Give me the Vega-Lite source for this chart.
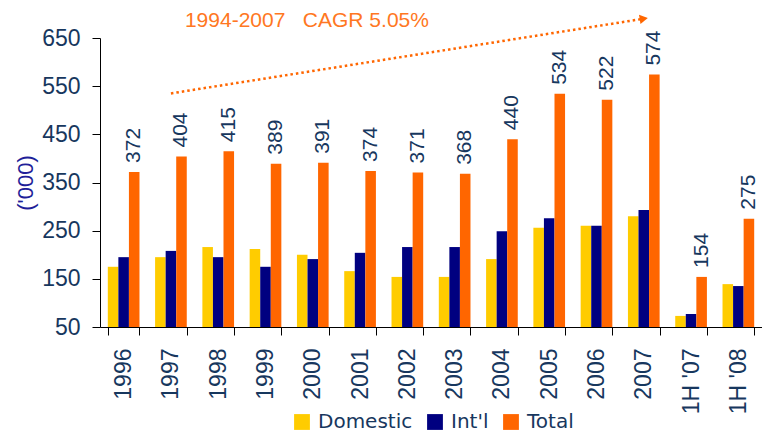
{
  "$schema": "https://vega.github.io/schema/vega-lite/v6.json",
  "width": 662,
  "height": 289,
  "autosize": {"type": "none"},
  "padding": {"left": 100, "top": 38, "right": 0, "bottom": 106},
  "background": "white",
  "config": {"view": {"stroke": null}, "font": "Liberation Sans", "text": {"font": "Liberation Sans"}, "axis": {"labelFont": "Liberation Sans", "titleFont": "Liberation Sans"}},
  "datasets": {
    "main": [
      {"year": "1996", "series": "Domestic", "value": 175}, {"year": "1996", "series": "Int'l", "value": 195}, {"year": "1996", "series": "Total", "value": 372},
      {"year": "1997", "series": "Domestic", "value": 195}, {"year": "1997", "series": "Int'l", "value": 208}, {"year": "1997", "series": "Total", "value": 404},
      {"year": "1998", "series": "Domestic", "value": 216}, {"year": "1998", "series": "Int'l", "value": 195}, {"year": "1998", "series": "Total", "value": 415},
      {"year": "1999", "series": "Domestic", "value": 212}, {"year": "1999", "series": "Int'l", "value": 175}, {"year": "1999", "series": "Total", "value": 389},
      {"year": "2000", "series": "Domestic", "value": 200}, {"year": "2000", "series": "Int'l", "value": 191}, {"year": "2000", "series": "Total", "value": 391},
      {"year": "2001", "series": "Domestic", "value": 166}, {"year": "2001", "series": "Int'l", "value": 204}, {"year": "2001", "series": "Total", "value": 374},
      {"year": "2002", "series": "Domestic", "value": 154}, {"year": "2002", "series": "Int'l", "value": 216}, {"year": "2002", "series": "Total", "value": 371},
      {"year": "2003", "series": "Domestic", "value": 154}, {"year": "2003", "series": "Int'l", "value": 216}, {"year": "2003", "series": "Total", "value": 368},
      {"year": "2004", "series": "Domestic", "value": 191}, {"year": "2004", "series": "Int'l", "value": 249}, {"year": "2004", "series": "Total", "value": 440},
      {"year": "2005", "series": "Domestic", "value": 256}, {"year": "2005", "series": "Int'l", "value": 276}, {"year": "2005", "series": "Total", "value": 534},
      {"year": "2006", "series": "Domestic", "value": 260}, {"year": "2006", "series": "Int'l", "value": 260}, {"year": "2006", "series": "Total", "value": 522},
      {"year": "2007", "series": "Domestic", "value": 280}, {"year": "2007", "series": "Int'l", "value": 293}, {"year": "2007", "series": "Total", "value": 574},
      {"year": "1H '07", "series": "Domestic", "value": 73}, {"year": "1H '07", "series": "Int'l", "value": 77}, {"year": "1H '07", "series": "Total", "value": 154},
      {"year": "1H '08", "series": "Domestic", "value": 139}, {"year": "1H '08", "series": "Int'l", "value": 135}, {"year": "1H '08", "series": "Total", "value": 275}
    ],
    "trend": [
      {"year": "1997", "v": 535},
      {"year": "2007", "v": 690}
    ]
  },
  "layer": [
    {
      "data": {"name": "main"},
      "mark": {"type": "bar"},
      "encoding": {
        "x": {
          "field": "year", "type": "nominal",
          "sort": ["1996","1997","1998","1999","2000","2001","2002","2003","2004","2005","2006","2007","1H '07","1H '08"],
          "scale": {"paddingInner": 0.33, "paddingOuter": 0.165},
          "axis": {
            "title": null, "labelAngle": -90, "labelAlign": "right", "labelBaseline": "middle",
            "labelFont": "Liberation Sans", "labelFontSize": 23, "labelColor": "#17375E", "labelPadding": 13,
            "tickBand": "extent", "tickColor": "black", "tickSize": 8, "domainColor": "black", "grid": false
          }
        },
        "xOffset": {"field": "series", "type": "nominal", "scale": {"domain": ["Domestic", "Int'l", "Total"]}},
        "y": {
          "field": "value", "type": "quantitative",
          "scale": {"domain": [50, 650], "nice": false, "zero": false},
          "axis": {
            "values": [50, 150, 250, 350, 450, 550, 650],
            "title": "('000)", "titleFont": "Liberation Sans", "titleColor": "#1F1F99", "titleFontSize": 22, "titleFontWeight": "normal", "titlePadding": 4,
            "labelFont": "Liberation Sans", "labelFontSize": 23, "labelColor": "#17375E", "labelPadding": 12,
            "tickSize": 8, "tickColor": "black", "domainColor": "black", "grid": false
          }
        },
        "y2": {"datum": 50},
        "color": {
          "field": "series", "type": "nominal",
          "scale": {"domain": ["Domestic", "Int'l", "Total"], "range": ["#FFCC00", "#000080", "#FF6600"]},
          "legend": {
            "orient": "none", "legendX": 192, "legendY": 374, "direction": "horizontal", "title": null,
            "symbolType": "square", "symbolSize": 250, "symbolStrokeWidth": 0, "symbolOpacity": 1,
            "labelFont": "DejaVu Sans", "labelFontSize": 20, "labelColor": "#17375E",
            "columnPadding": 12, "labelOffset": 6
          }
        }
      }
    },
    {
      "data": {"name": "main"},
      "transform": [{"filter": "datum.series === 'Total'"}],
      "mark": {"type": "text", "font": "Liberation Sans", "angle": 270, "align": "left", "baseline": "middle", "dx": 9, "fontSize": 21, "color": "#17375E"},
      "encoding": {
        "x": {"field": "year", "type": "nominal", "sort": ["1996","1997","1998","1999","2000","2001","2002","2003","2004","2005","2006","2007","1H '07","1H '08"]},
        "xOffset": {"field": "series", "type": "nominal"},
        "y": {"field": "value", "type": "quantitative"},
        "text": {"field": "value", "type": "quantitative"}
      }
    },
    {
      "data": {"name": "trend"},
      "mark": {"type": "line", "color": "#FF6600", "strokeWidth": 2.5, "strokeDash": [2.5, 3]},
      "encoding": {
        "x": {"field": "year", "type": "nominal", "sort": ["1996","1997","1998","1999","2000","2001","2002","2003","2004","2005","2006","2007","1H '07","1H '08"]},
        "y": {"field": "v", "type": "quantitative"}
      }
    },
    {
      "data": {"name": "trend"},
      "transform": [{"filter": "datum.year === '2007'"}],
      "mark": {"type": "point", "shape": "triangle-right", "filled": true, "size": 90, "angle": -9, "color": "#FF6600", "opacity": 1},
      "encoding": {
        "x": {"field": "year", "type": "nominal", "sort": ["1996","1997","1998","1999","2000","2001","2002","2003","2004","2005","2006","2007","1H '07","1H '08"]},
        "y": {"field": "v", "type": "quantitative"}
      }
    },
    {
      "data": {"values": [{}]},
      "mark": {"type": "text", "font": "Liberation Sans", "text": "1994-2007\u00a0\u00a0\u00a0CAGR 5.05%", "fontSize": 21, "color": "#FF7722", "align": "left", "baseline": "alphabetic", "dx": 14},
      "encoding": {
        "x": {"datum": "1997", "type": "nominal"},
        "y": {"datum": 673, "type": "quantitative"}
      }
    }
  ]
}
